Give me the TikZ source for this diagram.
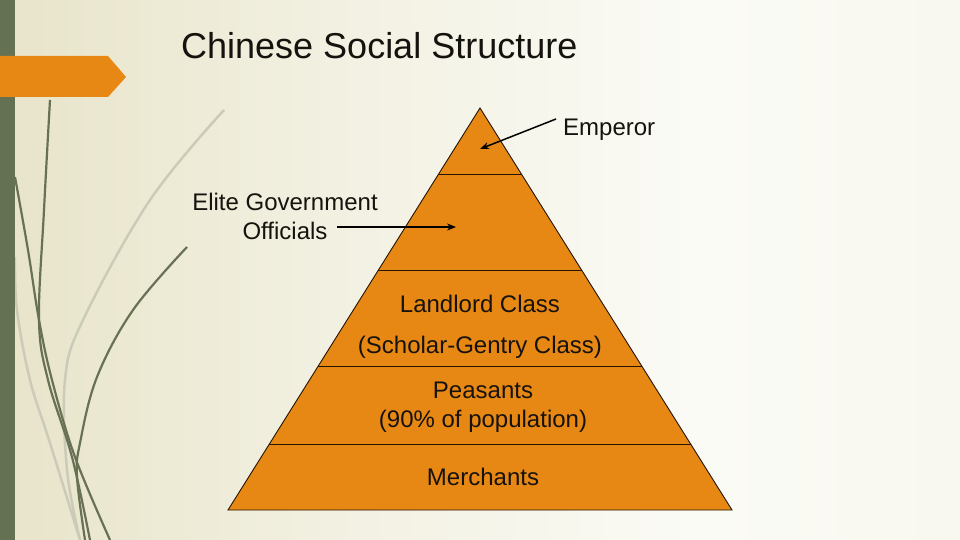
\documentclass[tikz,border=0pt]{standalone}
\usepackage{fontspec}
\setmainfont{Liberation Sans}
\usetikzlibrary{arrows.meta,calc}
\definecolor{bgbeige}{RGB}{232,228,202}
\definecolor{bglight}{RGB}{251,251,246}
\definecolor{stripgreen}{RGB}{100,113,82}
\definecolor{pyrorange}{RGB}{232,136,20}
\definecolor{darkcurve}{RGB}{104,113,84}
\definecolor{lightcurve}{RGB}{203,203,184}
\definecolor{txt}{RGB}{22,18,14}
\tikzset{
  lbl/.style={font=\fontsize{24}{29}\selectfont, text=txt, inner sep=0pt, align=center},
  divline/.style={draw=black!85!pyrorange, line width=0.9pt},
  pointer/.style={draw=black, line width=1.5pt, -{Stealth[length=9pt,width=7pt]}},
  dcurve/.style={draw=darkcurve, line width=2.2pt},
  lcurve/.style={draw=lightcurve, line width=2.5pt}
}
\begin{document}
\begin{tikzpicture}[x=1pt,y=-1pt]
\useasboundingbox (0,0) rectangle (960,540);
% background
\shade[left color=bgbeige, right color=bglight, middle color=bglight!55!bgbeige] (0,0) rectangle (700,540);
\shade[left color=bglight, right color=bglight!85!bgbeige] (700,0) rectangle (960,540);
% decorative curves
\draw[lcurve] plot[smooth, tension=0.6] coordinates {(224,110) (150,200) (83,320) (65,380) (67,470) (80,540)};
\draw[lcurve] plot[smooth, tension=0.6] coordinates {(15,257) (17,310) (30,380) (50,443) (80,540)};
\draw[dcurve] plot[smooth, tension=0.6] coordinates {(50,100) (44,210) (39,320) (48,380) (72,457) (90,540)};
\draw[dcurve] plot[smooth, tension=0.6] coordinates {(15,177) (28,250) (39,320) (52,380) (75,457) (110,540)};
\draw[dcurve] plot[smooth, tension=0.6] coordinates {(187,247) (133,310) (97,377) (80,443) (77,477) (85,540)};
% left strip
\fill[stripgreen] (0,0) rectangle (15,540);
% tab
\fill[pyrorange] (0,56) -- (108,56) -- (126,77) -- (108,97) -- (0,97) -- cycle;
% title
\node[anchor=west, font=\fontsize{36}{40}\selectfont, text=txt, inner sep=0pt] (title) at (181,46) {Chinese Social Structure};
% pyramid
\coordinate (apex) at (480,108);
\coordinate (bl) at (228,510);
\coordinate (br) at (732,510);
\draw[fill=pyrorange, draw=black!85!pyrorange, line width=0.9pt] (apex) -- (br) -- (bl) -- cycle;
\foreach \t in {0.1642,0.4030,0.6418,0.8358}{
  \draw[divline] ($(apex)!\t!(bl)$) -- ($(apex)!\t!(br)$);
}
% labels inside
\node[lbl] (landlord) at (480,304) {Landlord Class};
\node[lbl] (scholar) at (480,347) {(Scholar-Gentry Class)};
\node[lbl] (peasants) at (483,407) {Peasants\\(90\% of population)};
\node[lbl] (merchants) at (483,477) {Merchants};
% outside labels
\node[lbl, anchor=west] (emperor) at (563,130) {Emperor};
\node[lbl] (elite) at (285,216) {Elite Government\\Officials};
% arrows
\coordinate (empstart) at (556,119);
\coordinate (emptip) at (480,149);
\coordinate (elitestart) at (337,227);
\coordinate (elitetip) at (456,227);
\draw[pointer] (empstart) -- (emptip);
\draw[pointer] (elitestart) -- (elitetip);
\end{tikzpicture}
\end{document}
